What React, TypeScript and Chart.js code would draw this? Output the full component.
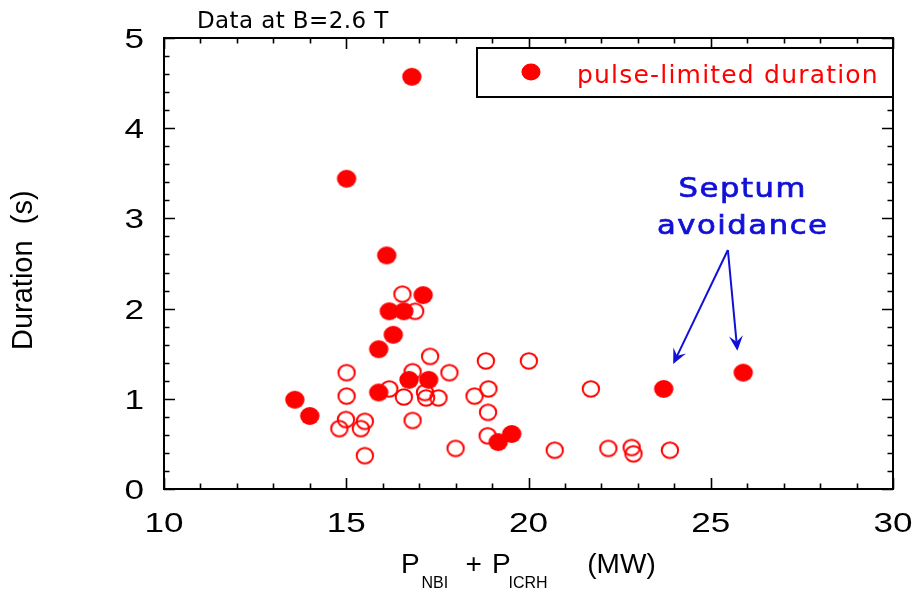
import React, { useEffect, useRef } from 'react';
import { Chart, registerables } from 'chart.js';

Chart.register(...registerables);

// ---------- data ----------
const xTickLabels = ['10', '15', '20', '25', '30'];
const yTickLabels = ['0', '1', '2', '3', '4', '5'];

// pulse-limited duration (filled markers)
const pulseLimitedX = [16.8, 15.01, 16.11, 17.11, 16.18, 16.58, 16.29, 15.89, 16.72, 17.26, 15.89, 13.59, 14.0, 19.54, 19.17, 23.71, 25.89];
const pulseLimitedY = [4.57, 3.44, 2.59, 2.15, 1.97, 1.97, 1.71, 1.55, 1.21, 1.21, 1.07, 0.99, 0.81, 0.61, 0.52, 1.11, 1.29];

// other pulses (open markers)
const otherX = [16.54, 16.89, 17.3, 15.01, 16.82, 17.83, 16.18, 15.01, 16.58, 17.16, 17.19, 17.53, 18.52, 18.83, 20.01, 18.9, 18.89, 18.88, 14.99, 15.51, 14.81, 15.4, 16.82, 15.51, 18.0, 20.72, 21.71, 22.19, 22.83, 22.88, 23.88];
const otherY = [2.16, 1.97, 1.47, 1.29, 1.3, 1.29, 1.11, 1.03, 1.02, 1.07, 1.01, 1.01, 1.03, 1.42, 1.42, 1.11, 0.85, 0.59, 0.77, 0.75, 0.67, 0.67, 0.76, 0.37, 0.45, 0.43, 1.11, 0.45, 0.46, 0.39, 0.43];

const legendLabel = 'pulse-limited duration';
const noteText = 'Data at B=2.6 T';
const yTitle = 'Duration  (s)';
const annotationLines = ['Septum', 'avoidance'];
// annotation anchor positions in data units
const annotationTextX = 25.85;
const annotationTextY = [3.24, 2.83];
const arrowFrom = [25.47, 2.65];
const arrowTipsX = [23.97, 25.73];
const arrowTipsY = [1.386, 1.533];

const RED = '#ff0000';
const BLUE = '#1010d8';

function makeEllipse(filled: boolean): HTMLCanvasElement {
  const c = document.createElement('canvas');
  c.width = 22;
  c.height = 20;
  const g = c.getContext('2d')!;
  g.beginPath();
  if (filled) {
    g.ellipse(11, 10, 9.7, 8.9, 0, 0, Math.PI * 2);
    g.fillStyle = RED;
    g.fill();
  } else {
    g.ellipse(11, 10, 8.2, 7.8, 0, 0, Math.PI * 2);
    g.strokeStyle = RED;
    g.lineWidth = 2;
    g.stroke();
  }
  return c;
}

function txt(ctx: CanvasRenderingContext2D, s: string, x: number, y: number, font: string, color: string, align: CanvasTextAlign, sx = 1, ls = 0, thicken = 0) {
  ctx.save();
  ctx.translate(x, y);
  ctx.scale(sx, 1);
  ctx.font = font;
  ctx.fillStyle = color;
  ctx.textAlign = align;
  ctx.textBaseline = 'alphabetic';
  (ctx as any).letterSpacing = ls + 'px';
  ctx.fillText(s, 0, 0);
  if (thicken > 0) {
    ctx.strokeStyle = color;
    ctx.lineWidth = thicken;
    ctx.strokeText(s, 0, 0);
  }
  ctx.restore();
}

function arrow(ctx: CanvasRenderingContext2D, x0: number, y0: number, x1: number, y1: number) {
  const ang = Math.atan2(y1 - y0, x1 - x0);
  const c = Math.cos(ang), s = Math.sin(ang);
  const L = 15, W = 7, notch = 9;
  ctx.save();
  ctx.strokeStyle = BLUE;
  ctx.fillStyle = BLUE;
  ctx.lineWidth = 2;
  ctx.beginPath();
  ctx.moveTo(x0, y0);
  ctx.lineTo(x1 - c * notch, y1 - s * notch);
  ctx.stroke();
  const bx = x1 - c * L, by = y1 - s * L;
  const px = -s, py = c;
  ctx.beginPath();
  ctx.moveTo(x1, y1);
  ctx.lineTo(bx + px * W, by + py * W);
  ctx.lineTo(x1 - c * notch, y1 - s * notch);
  ctx.lineTo(bx - px * W, by - py * W);
  ctx.closePath();
  ctx.fill();
  ctx.restore();
}

const isMajor = (v: number, step: number) => Math.abs(v / step - Math.round(v / step)) < 1e-6;

const framePlugin = {
  id: 'frame',
  afterDraw(chart: any) {
    const ctx: CanvasRenderingContext2D = chart.ctx;
    const { left, right, top, bottom } = chart.chartArea;
    const xs = chart.scales.x;
    const ys = chart.scales.y;

    ctx.save();
    ctx.strokeStyle = '#000';
    ctx.lineWidth = 2;
    ctx.strokeRect(left, top, right - left, bottom - top);

    ctx.lineWidth = 1.6;
    ctx.beginPath();
    xs.ticks.forEach((t: any) => {
      const px = Math.round(xs.getPixelForValue(t.value)) + 0.5;
      const len = isMajor(t.value, 5) ? 11 : 5.5;
      ctx.moveTo(px, bottom);
      ctx.lineTo(px, bottom - len);
      ctx.moveTo(px, top);
      ctx.lineTo(px, top + len);
    });
    ys.ticks.forEach((t: any) => {
      const py = Math.round(ys.getPixelForValue(t.value)) + 0.5;
      const len = isMajor(t.value, 1) ? 11 : 5.5;
      ctx.moveTo(left, py);
      ctx.lineTo(left + len, py);
      ctx.moveTo(right, py);
      ctx.lineTo(right - len, py);
    });
    ctx.stroke();
    ctx.restore();

    // tick labels
    const tickFont = '27px "Liberation Sans"';
    xTickLabels.forEach((l) => {
      txt(ctx, l, xs.getPixelForValue(Number(l)), bottom + 42.5, tickFont, '#000', 'center', 1.3);
    });
    yTickLabels.forEach((l) => {
      txt(ctx, l, left - 20, ys.getPixelForValue(Number(l)) + 10, tickFont, '#000', 'right', 1.3);
    });

    // note above plot
    txt(ctx, noteText, 197, 28.3, '23px "DejaVu Sans"', '#000', 'left', 1, 0.4);

    // y title (rotated)
    ctx.save();
    ctx.translate(31.7, 350);
    ctx.rotate(-Math.PI / 2);
    txt(ctx, yTitle, 0, 0, '29px "Liberation Sans"', '#000', 'left');
    ctx.restore();

    // x title with subscripts
    const big = '28px "Liberation Sans"';
    const small = '16px "Liberation Sans"';
    txt(ctx, 'P', 401, 572.7, big, '#000', 'left');
    txt(ctx, 'NBI', 421.5, 588.3, small, '#000', 'left');
    txt(ctx, '+', 465.5, 572.7, big, '#000', 'left');
    txt(ctx, 'P', 492, 572.7, big, '#000', 'left');
    txt(ctx, 'ICRH', 508.5, 588.3, small, '#000', 'left');
    txt(ctx, '(MW)', 587.3, 572.7, big, '#000', 'left');

    // legend box
    ctx.save();
    ctx.fillStyle = '#fff';
    ctx.fillRect(477, 48, right - 477, 49);
    ctx.strokeStyle = '#000';
    ctx.lineWidth = 2;
    ctx.strokeRect(477, 48, right - 477, 49);
    ctx.restore();
    ctx.save();
    ctx.beginPath();
    ctx.ellipse(531, 72, 9.5, 8.4, 0, 0, Math.PI * 2);
    ctx.fillStyle = RED;
    ctx.fill();
    ctx.restore();
    txt(ctx, legendLabel, 577, 83.3, '25px "DejaVu Sans"', RED, 'left', 1, 1.2);

    // annotation
    const ax = xs.getPixelForValue(annotationTextX) + 1;
    annotationLines.forEach((l, i) => {
      txt(ctx, l, ax, ys.getPixelForValue(annotationTextY[i]), '26px "DejaVu Sans"', BLUE, 'center', 1.18, 1.3, 0.7);
    });
    const x0 = xs.getPixelForValue(arrowFrom[0]);
    const y0 = ys.getPixelForValue(arrowFrom[1]);
    arrowTipsX.forEach((tx, i) => {
      arrow(ctx, x0, y0, xs.getPixelForValue(tx), ys.getPixelForValue(arrowTipsY[i]));
    });
  },
};

export default function App() {
  const ref = useRef<HTMLCanvasElement>(null);
  useEffect(() => {
    const canvas = ref.current!;
    const filledImg = makeEllipse(true);
    const openImg = makeEllipse(false);
    const chart = new Chart(canvas, {
      type: 'scatter',
      data: {
        datasets: [
          {
            label: legendLabel,
            data: pulseLimitedX.map((x, i) => ({ x, y: pulseLimitedY[i] })),
            pointStyle: filledImg as any,
            pointRadius: 9,
            order: 0,
          },
          {
            label: 'other',
            data: otherX.map((x, i) => ({ x, y: otherY[i] })),
            pointStyle: openImg as any,
            pointRadius: 8,
            order: 1,
          },
        ],
      },
      options: {
        responsive: true,
        maintainAspectRatio: false,
        animation: false,
        layout: { padding: { top: 38, right: 25, left: 0, bottom: 0 } },
        plugins: { legend: { display: false }, tooltip: { enabled: false } },
        scales: {
          x: {
            type: 'linear',
            min: 10,
            max: 30,
            ticks: { display: false, stepSize: 1 },
            grid: { display: false },
            border: { display: false },
            afterFit: (s: any) => { s.height = 100; },
          },
          y: {
            type: 'linear',
            min: 0,
            max: 5,
            ticks: { display: false, stepSize: 0.2 },
            grid: { display: false },
            border: { display: false },
            afterFit: (s: any) => { s.width = 164; },
          },
        },
      },
      plugins: [framePlugin],
    });
    return () => chart.destroy();
  }, []);
  return (
    <div style={{ position: 'fixed', left: 0, top: 0, width: 918, height: 589, background: '#fff' }}>
      <canvas ref={ref} />
    </div>
  );
}
